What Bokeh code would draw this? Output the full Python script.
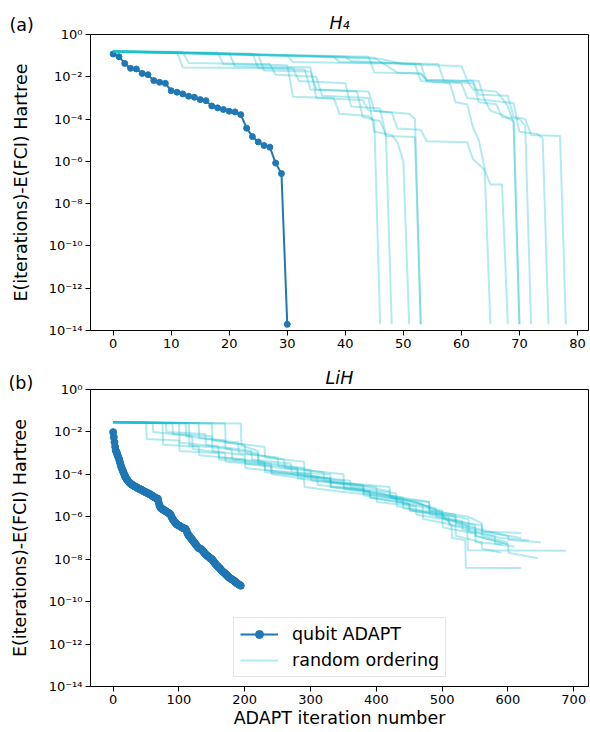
from bokeh.plotting import figure
from bokeh.layouts import column
from bokeh.models import (Range1d, FixedTicker, CustomJSTickFormatter, Label,
                          Legend, LegendItem)
from bokeh.embed import file_html
from bokeh.resources import INLINE

# ---------------- data (values stored as log10 of the energy error) ----------
Y_TICKS = [1e0, 1e-2, 1e-4, 1e-6, 1e-8, 1e-10, 1e-12, 1e-14]
H4_X_TICKS = [0, 10, 20, 30, 40, 50, 60, 70, 80]
LIH_X_TICKS = [0, 100, 200, 300, 400, 500, 600, 700]

# H4, qubit ADAPT (iterations 0..30)
H4_QUBIT_LOG10 = [-0.92, -1.05, -1.37, -1.60, -1.63, -1.84, -1.90, -2.18, -2.26, -2.31,
                  -2.66, -2.73, -2.81, -2.92, -2.97, -3.08, -3.13, -3.38, -3.47, -3.55,
                  -3.63, -3.66, -3.79, -4.43, -4.83, -5.08, -5.25, -5.33, -6.08, -6.58,
                  -13.71]

# H4, random orderings: (iteration, log10 error) breakpoints
H4_RAND_1 = [(0, -0.80), (18, -0.85), (19, -1.40), (30, -1.45), (31, -2.95), (38, -3.0),
             (39, -3.75), (44, -3.85), (45, -4.1), (46, -13.7)]
H4_RAND_2 = [(0, -0.82), (24, -0.9), (25, -1.6), (33, -1.65), (34, -2.6), (42, -2.7),
             (43, -3.9), (46, -4.1), (47, -4.75), (48, -13.7)]
H4_RAND_3 = [(0, -0.78), (12, -0.82), (13, -1.35), (27, -1.4), (28, -1.9), (35, -2.0),
             (36, -2.9), (44, -3.0), (45, -4.6), (48, -4.75), (49, -5.1), (50, -6.0),
             (51, -13.7)]
H4_RAND_4 = [(0, -0.80), (11, -0.85), (12, -1.56), (31, -1.6), (32, -2.2), (40, -2.3),
             (41, -3.4), (46, -3.5), (47, -4.8), (52, -4.85), (53, -13.7)]
H4_RAND_5 = [(0, -0.85), (20, -0.9), (21, -1.5), (34, -1.55), (35, -3.0), (43, -3.1),
             (44, -3.6), (51, -3.75), (52, -4.0), (53, -13.7)]
H4_RAND_6 = [(0, -0.77), (40, -1.05), (41, -1.25), (52, -1.4), (53, -2.2), (58, -2.3),
             (59, -3.2), (61, -3.3), (62, -4.4), (63, -5.0), (64, -6.3), (65, -13.7)]
H4_RAND_7 = [(0, -0.80), (25, -0.95), (26, -1.7), (34, -1.75), (35, -2.6), (44, -2.7),
             (45, -3.6), (48, -3.7), (49, -4.45), (53, -4.5), (54, -5.05), (61, -5.1),
             (62, -5.9), (64, -6.4), (65, -7.1), (67, -7.1), (68, -13.7)]
H4_RAND_8 = [(0, -0.78), (45, -1.1), (49, -1.8), (53, -1.85), (54, -2.15), (61, -2.2),
             (62, -2.6), (66, -2.7), (67, -3.0), (68, -3.4), (69, -4.2), (70, -13.7)]
H4_RAND_9 = [(0, -0.82), (30, -1.0), (31, -1.3), (53, -1.4), (54, -2.2), (60, -2.3),
             (61, -3.0), (64, -3.1), (65, -3.6), (67, -3.8), (69, -4.1), (70, -13.7)]
H4_RAND_10 = [(0, -0.80), (38, -1.05), (39, -1.3), (56, -1.4), (57, -2.2), (62, -2.3),
              (63, -3.2), (66, -3.3), (67, -3.9), (70, -4.0), (71, -4.3), (72, -13.7)]
H4_RAND_11 = [(0, -0.78), (46, -1.15), (50, -1.4), (60, -1.5), (61, -2.15), (63, -2.2),
              (64, -3.1), (69, -3.25), (70, -4.6), (73, -4.7), (74, -4.9), (75, -13.7)]
H4_RAND_12 = [(0, -0.80), (44, -1.05), (45, -1.8), (53, -1.85), (54, -2.15), (62, -2.2),
              (63, -2.85), (68, -2.9), (69, -3.9), (71, -4.0), (72, -4.75), (77, -4.8),
              (78, -13.7)]

# LiH, qubit ADAPT (iterations 0..194)
LIH_QUBIT_LOG10 = [
    -2.01, -2.25, -2.48, -2.70, -2.88, -2.95, -3.02, -3.12, -3.20, -3.28,
    -3.40, -3.50, -3.62, -3.70, -3.78, -3.85, -3.92, -4.02, -4.08, -4.14,
    -4.19, -4.24, -4.28, -4.32, -4.36, -4.39, -4.42, -4.45, -4.47, -4.49,
    -4.51, -4.53, -4.55, -4.57, -4.58, -4.60, -4.62, -4.64, -4.66, -4.67,
    -4.68, -4.70, -4.72, -4.73, -4.75, -4.77, -4.79, -4.80, -4.82, -4.83,
    -4.85, -4.86, -4.88, -4.90, -4.91, -4.92, -4.94, -4.96, -4.98, -5.00,
    -5.02, -5.04, -5.06, -5.08, -5.10, -5.12, -5.13, -5.14, -5.15, -5.30,
    -5.42, -5.50, -5.56, -5.60, -5.62, -5.64, -5.66, -5.68, -5.70, -5.72,
    -5.74, -5.76, -5.78, -5.80, -5.82, -5.84, -5.85, -5.88, -5.95, -6.02,
    -6.08, -6.14, -6.18, -6.22, -6.26, -6.30, -6.33, -6.36, -6.38, -6.40,
    -6.41, -6.43, -6.45, -6.47, -6.49, -6.51, -6.53, -6.54, -6.55, -6.56,
    -6.57, -6.62, -6.70, -6.78, -6.84, -6.88, -6.92, -6.96, -7.00, -7.04,
    -7.08, -7.12, -7.16, -7.20, -7.24, -7.28, -7.32, -7.36, -7.40, -7.44,
    -7.47, -7.49, -7.50, -7.51, -7.53, -7.56, -7.60, -7.64, -7.68, -7.72,
    -7.75, -7.78, -7.81, -7.84, -7.86, -7.88, -7.91, -7.94, -7.96, -7.98,
    -8.00, -8.04, -8.08, -8.12, -8.16, -8.20, -8.24, -8.28, -8.31, -8.34,
    -8.37, -8.40, -8.43, -8.46, -8.50, -8.54, -8.57, -8.60, -8.62, -8.64,
    -8.67, -8.70, -8.73, -8.76, -8.79, -8.82, -8.85, -8.88, -8.90, -8.92,
    -8.94, -8.96, -8.98, -9.00, -9.02, -9.05, -9.08, -9.11, -9.13, -9.15,
    -9.17, -9.19, -9.21, -9.23, -9.25]

# LiH, random orderings: (iteration, log10 error) breakpoints
LIH_RAND_1 = [(0, -1.54), (50, -1.56), (51, -2.33), (100, -2.4), (101, -2.9), (160, -3.0),
              (161, -3.3), (230, -3.5), (231, -3.8), (300, -4.0), (301, -4.3), (370, -4.5),
              (420, -4.8), (421, -5.1), (480, -5.3), (481, -5.7), (540, -6.0), (560, -6.3),
              (561, -6.7), (620, -6.76)]
LIH_RAND_2 = [(0, -1.54), (75, -1.57), (76, -2.6), (130, -2.7), (131, -3.1), (200, -3.3),
              (201, -3.7), (260, -3.9), (300, -4.2), (350, -4.4), (351, -4.7), (420, -5.0),
              (470, -5.4), (471, -5.7), (540, -6.1), (541, -6.7), (590, -7.0), (632, -7.12)]
LIH_RAND_3 = [(0, -1.54), (90, -1.6), (91, -2.1), (150, -2.2), (151, -2.9), (200, -3.1),
              (201, -3.5), (280, -3.8), (281, -4.2), (340, -4.4), (400, -4.6), (401, -5.0),
              (460, -5.3), (500, -5.8), (501, -6.1), (538, -6.4), (539, -7.58), (688, -7.6)]
LIH_RAND_4 = [(0, -1.54), (115, -1.58), (116, -2.64), (180, -2.8), (181, -3.3), (240, -3.5),
              (241, -3.9), (310, -4.1), (311, -4.5), (380, -4.7), (381, -5.0), (440, -5.2),
              (490, -5.6), (491, -6.0), (550, -6.4), (551, -6.9), (600, -7.3), (601, -7.7),
              (645, -7.95)]
LIH_RAND_5 = [(0, -1.54), (194, -1.6), (195, -2.64), (220, -2.9), (221, -3.4), (290, -3.7),
              (291, -4.1), (350, -4.3), (351, -4.6), (410, -4.9), (450, -5.4), (451, -5.7),
              (500, -5.9), (514, -6.4), (515, -7.0), (535, -7.1), (536, -8.4), (620, -8.42)]
LIH_RAND_6 = [(0, -1.54), (150, -1.6), (151, -2.4), (200, -2.6), (201, -3.0), (260, -3.3),
              (261, -3.7), (320, -3.9), (321, -4.3), (380, -4.5), (381, -4.8), (440, -5.1),
              (441, -5.4), (500, -5.7), (501, -6.1), (560, -6.4), (561, -6.9), (600, -7.2)]
LIH_RAND_7 = [(0, -1.54), (130, -1.58), (131, -2.3), (190, -2.5), (191, -3.0), (250, -3.2),
              (251, -3.6), (300, -3.8), (301, -4.1), (360, -4.3), (361, -4.6), (430, -4.9),
              (431, -5.3), (480, -5.5), (481, -5.9), (530, -6.2), (531, -6.6), (580, -6.9),
              (581, -7.3), (610, -7.4)]
LIH_RAND_8 = [(0, -1.54), (60, -1.57), (61, -2.0), (120, -2.2), (121, -2.8), (170, -3.0),
              (171, -3.4), (240, -3.6), (241, -4.0), (290, -4.2), (291, -4.6), (340, -4.8),
              (400, -5.0), (401, -5.3), (460, -5.5), (461, -5.9), (500, -6.1), (501, -6.5),
              (550, -6.8), (551, -7.2), (590, -7.3)]
LIH_RAND_9 = [(0, -1.54), (100, -1.58), (101, -2.5), (160, -2.7), (161, -3.2), (230, -3.4),
              (231, -3.9), (330, -4.2), (331, -4.6), (390, -4.8), (391, -5.1), (450, -5.4),
              (451, -5.7), (510, -6.0), (511, -6.4), (580, -6.8), (620, -7.0)]
LIH_RAND_10 = [(0, -1.54), (110, -1.6), (111, -2.2), (170, -2.4), (171, -2.8), (220, -3.0),
               (221, -3.5), (280, -3.7), (281, -4.0), (330, -4.2), (331, -4.6), (390, -4.8),
               (391, -5.1), (440, -5.3), (441, -5.6), (520, -6.0), (521, -6.4), (560, -6.6),
               (600, -6.9), (601, -7.1), (650, -7.2)]
LIH_RAND_11 = [(0, -1.54), (80, -1.58), (81, -2.0), (140, -2.1), (141, -2.6), (210, -2.9),
               (211, -3.3), (270, -3.5), (271, -3.9), (330, -4.0), (331, -4.4), (380, -4.6),
               (381, -4.9), (430, -5.1), (431, -5.5), (470, -5.7), (471, -6.1), (520, -6.4),
               (521, -6.9), (560, -7.2), (561, -7.5), (590, -7.7)]
LIH_RAND_12 = [(0, -1.54), (170, -1.6), (171, -2.5), (230, -2.7), (231, -3.2), (290, -3.4),
               (291, -3.8), (350, -4.0), (351, -4.4), (420, -4.6), (421, -5.0), (480, -5.3),
               (481, -5.7), (520, -5.9), (521, -6.3), (550, -6.5), (551, -6.9), (600, -7.3)]

H4_RANDOM = [H4_RAND_1, H4_RAND_2, H4_RAND_3, H4_RAND_4, H4_RAND_5, H4_RAND_6,
             H4_RAND_7, H4_RAND_8, H4_RAND_9, H4_RAND_10, H4_RAND_11, H4_RAND_12]
LIH_RANDOM = [LIH_RAND_1, LIH_RAND_2, LIH_RAND_3, LIH_RAND_4, LIH_RAND_5, LIH_RAND_6,
              LIH_RAND_7, LIH_RAND_8, LIH_RAND_9, LIH_RAND_10, LIH_RAND_11, LIH_RAND_12]

Y_LABEL = "E(iterations)-E(FCI) Hartree"

# ---------------- styling ----------------
FONT = "DejaVu Sans"
BLUE = "#1f77b4"
CYAN = "#17becf"
TICK_FS = "13px"
LABEL_FS = "17.5px"

SUP_JS = """
const e = Math.round(Math.log10(tick));
const sup = {"-": "\u207b", "0": "\u2070", "1": "\u00b9", "2": "\u00b2", "3": "\u00b3",
             "4": "\u2074", "5": "\u2075", "6": "\u2076", "7": "\u2077", "8": "\u2078",
             "9": "\u2079"};
let s = "";
for (const c of String(e)) { s += sup[c]; }
return "10" + s;
"""


def make_fig(xr, xticks, title, frame_h, top_border, bottom_border, panel_tag, tag_dy):
    p = figure(frame_width=498, frame_height=frame_h, y_axis_type="log",
               x_range=Range1d(*xr), y_range=Range1d(1e-14, 1.0),
               output_backend="svg", toolbar_location=None,
               min_border_left=88, min_border_right=4,
               min_border_top=top_border, min_border_bottom=bottom_border)
    p.title.text = title
    p.title.align = "center"
    p.title.text_font = FONT
    p.title.text_font_size = LABEL_FS
    p.title.text_font_style = "italic"
    p.title.text_color = "black"
    p.title.standoff = 4
    p.xgrid.visible = False
    p.ygrid.visible = False
    p.outline_line_color = "black"
    p.outline_line_width = 1
    p.outline_line_alpha = 1
    p.background_fill_color = "white"
    p.border_fill_color = "white"

    p.xaxis.ticker = FixedTicker(ticks=xticks, minor_ticks=[])
    p.yaxis.ticker = FixedTicker(ticks=Y_TICKS, minor_ticks=[])
    p.yaxis.formatter = CustomJSTickFormatter(code=SUP_JS)
    for ax in (p.xaxis, p.yaxis):
        ax.axis_line_color = "black"
        ax.major_tick_line_color = "black"
        ax.major_tick_out = 5
        ax.major_tick_in = 0
        ax.minor_tick_line_color = None
        ax.major_label_text_font = FONT
        ax.major_label_text_font_size = TICK_FS
        ax.major_label_text_color = "black"
        ax.major_label_standoff = 3
        ax.axis_label_text_font = FONT
        ax.axis_label_text_font_size = LABEL_FS
        ax.axis_label_text_font_style = "normal"
        ax.axis_label_text_color = "black"

    # panel tag "(a)"/"(b)" and the y label live in the left side panel
    tag = Label(x=-12, y=frame_h + tag_dy, x_units="screen", y_units="screen",
                text=panel_tag, text_font=FONT, text_font_size=LABEL_FS,
                text_color="black", text_baseline="alphabetic", text_align="left")
    p.add_layout(tag, "left")
    ylab = Label(x=19, y=frame_h / 2, x_units="screen", y_units="screen",
                 text=Y_LABEL, text_font=FONT, text_font_size=LABEL_FS,
                 text_color="black", text_baseline="middle", text_align="center",
                 angle=90, angle_units="deg")
    p.add_layout(ylab, "left")
    return p


def draw(p, qubit_log10, random_traces, dot_size):
    qx = list(range(len(qubit_log10)))
    qy = [10.0 ** v for v in qubit_log10]
    q_line = p.line(qx, qy, color=BLUE, line_width=2, line_join="round")
    q_dot = p.scatter(qx, qy, size=dot_size, color=BLUE, line_color=BLUE)
    first = None
    for tr in random_traces:
        xs = [pt[0] for pt in tr]
        ys = [10.0 ** pt[1] for pt in tr]
        r = p.line(xs, ys, color=CYAN, alpha=0.33, line_width=2, line_join="round")
        if first is None:
            first = r
    return q_line, q_dot, first


p1 = make_fig((-3.9, 81.9), H4_X_TICKS, "H\u2084", 296, 34, 29, "(a)", 10)
draw(p1, H4_QUBIT_LOG10, H4_RANDOM, 6)

p2 = make_fig((-34.4, 722.4), LIH_X_TICKS, "LiH", 297, 30, 44, "(b)", 7)
p2.xaxis.axis_label = "ADAPT iteration number"
p2.xaxis.axis_label_standoff = 1
q_line, q_dot, rand_r = draw(p2, LIH_QUBIT_LOG10, LIH_RANDOM, 7)

legend = Legend(items=[LegendItem(label="qubit ADAPT", renderers=[q_line, q_dot]),
                       LegendItem(label="random ordering", renderers=[rand_r])],
                location=(143, 9))
legend.label_text_font = FONT
legend.label_text_font_size = LABEL_FS
legend.label_text_color = "black"
legend.glyph_width = 38
legend.glyph_height = 20
legend.label_standoff = 14
legend.padding = 6
legend.spacing = 6
legend.margin = 0
legend.border_line_color = "#cccccc"
legend.border_line_width = 1
legend.background_fill_alpha = 0.8
p2.add_layout(legend, "center")

layout = column(p1, p2, spacing=0)
open("out.html", "w").write(file_html(layout, INLINE))
